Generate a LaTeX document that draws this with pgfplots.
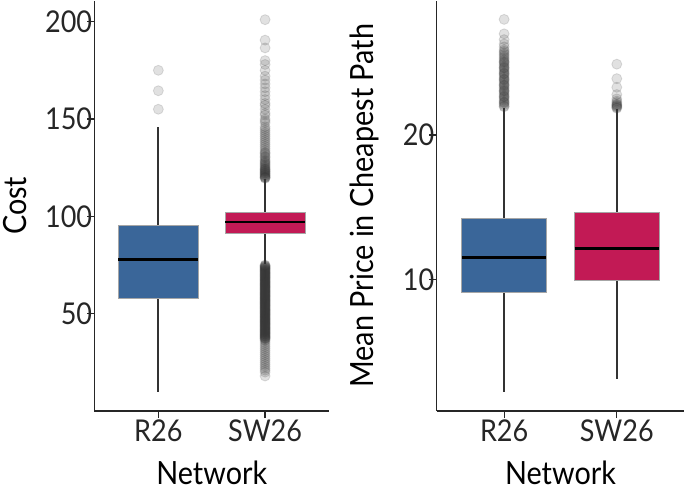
\documentclass[border=0pt]{standalone}
\usepackage{fontspec}
\setmainfont{Lato}[FakeStretch=0.9]
\usepackage{pgfplots}
\pgfplotsset{compat=1.18}
\usepgfplotslibrary{statistics}

\definecolor{rblue}{HTML}{3A6699}
\definecolor{swred}{HTML}{C21A55}
\definecolor{whisk}{HTML}{333333}

\tikzset{
  wsk/.style={draw=whisk, line width=1.8bp, solid},
  med/.style={draw=black, line width=2.4bp, solid},
}

\pgfplotsset{
  panel/.style={
    scale only axis,
    height=409bp,
    axis x line*=bottom,
    axis y line*=left,
    axis line style={line width=1.2bp, black!85},
    xmin=0.4, xmax=2.6,
    xtick={1,2}, xticklabels={R26,SW26},
    tick align=outside,
    major tick length=7bp,
    tick style={line width=1.2bp, black!85},
    ticklabel style={font=\fontsize{30}{32}\selectfont, text=black!85, inner sep=0pt},
    xticklabel style={yshift=-1bp},
    yticklabel style={xshift=5bp},
    label style={font=\fontsize{32}{36}\selectfont, inner sep=3bp},
    xlabel={Network},
    xlabel style={at={(axis description cs:0.5,-0.178)}, anchor=base},
    /pgf/number format/assume math mode=true,
    boxplot/draw direction=y,
    clip=false,
  },
  outl/.style={only marks, mark=*, mark size=5bp,
    mark options={fill=whisk, draw=whisk, fill opacity=0.15, draw opacity=0.15, line width=0.8bp}},
  bxp/.style={draw=whisk, line width=1.8bp, solid},
}

\begin{document}
\begin{tikzpicture}
% ---------------- left panel: Cost
\begin{axis}[panel,
  width=234bp,
  ymin=0, ymax=210.8,
  ytick={50,100,150,200},
  ylabel={Cost},
  ylabel style={at={(axis description cs:-0.29,0.5)}, anchor=base, rotate=0},
]
\addplot[outl] coordinates {(1,155) (1,164.5) (1,175)};
\addplot[outl] coordinates {
 (2,201) (2,190.5) (2,186.5) (2,180) (2,178) (2,175) (2,172) (2,170) (2,168)
 (2,166) (2,164) (2,162) (2,160) (2,158) (2,157) (2,155) (2,153) (2,152)
 (2,150) (2,149) (2,148) (2,146) (2,145) (2,144) (2,143) (2,142) (2,141)
 (2,140) (2,139) (2,138) (2,137) (2,136) (2,135) (2,134) (2,133) (2,132.5)
 (2,132) (2,131) (2,130.5) (2,130) (2,129) (2,128.5) (2,128) (2,127.5) (2,127)
 (2,126.5) (2,126) (2,125.5) (2,125) (2,124.5) (2,124) (2,123.5) (2,123)
 (2,122.5) (2,122) (2,121.5) (2,121) (2,120.5) (2,120) (2,119.5)
 (2,124.2) (2,123.2) (2,122.2) (2,121.2) (2,120.2) (2,119.8)
};
\addplot[outl] coordinates {
 (2,75) (2,74.5) (2,74) (2,73.5) (2,73) (2,72.5) (2,72) (2,71.5) (2,71) (2,70.5)
 (2,70) (2,69.5) (2,69) (2,68.5) (2,68) (2,67.5) (2,67) (2,66.5) (2,66) (2,65.5)
 (2,65) (2,64.5) (2,64) (2,63.5) (2,63) (2,62.5) (2,62) (2,61.5) (2,61) (2,60.5)
 (2,60) (2,59.5) (2,59) (2,58.5) (2,58) (2,57.5) (2,57) (2,56.5) (2,56) (2,55.5)
 (2,55) (2,54.5) (2,54) (2,53.5) (2,53) (2,52.5) (2,52) (2,51.5) (2,51) (2,50.5)
 (2,50) (2,49.5) (2,49) (2,48.5) (2,48) (2,47.5) (2,47) (2,46.5) (2,46) (2,45.5)
 (2,45) (2,44.5) (2,44) (2,43.5) (2,43) (2,42.5) (2,42) (2,41.5) (2,41) (2,40.5)
 (2,40) (2,39.5) (2,39) (2,38.5) (2,38) (2,37.5) (2,37) (2,36.5) (2,36)
 (2,74.75) (2,74.25) (2,73.75) (2,73.25) (2,72.75) (2,72.25) (2,71.75) (2,71.25)
 (2,70.75) (2,70.25) (2,69.75) (2,69.25) (2,68.75) (2,68.25) (2,67.75) (2,67.25)
 (2,66.75) (2,66.25) (2,65.75) (2,65.25) (2,64.75) (2,64.25) (2,63.75) (2,63.25)
 (2,62.75) (2,62.25) (2,61.75) (2,61.25) (2,60.75) (2,60.25) (2,59.75) (2,59.25)
 (2,58.75) (2,58.25) (2,57.75) (2,57.25) (2,56.75) (2,56.25) (2,55.75) (2,55.25)
 (2,54.75) (2,54.25) (2,53.75) (2,53.25) (2,52.75) (2,52.25) (2,51.75) (2,51.25)
 (2,50.75) (2,50.25) (2,49.75) (2,49.25) (2,48.75) (2,48.25) (2,47.75) (2,47.25)
 (2,46.75) (2,46.25) (2,45.75) (2,45.25) (2,44.75) (2,44.25) (2,43.75) (2,43.25)
 (2,42.75) (2,42.25) (2,41.75) (2,41.25) (2,40.75) (2,40.25) (2,39.75) (2,39.25)
 (2,38.75) (2,38.25) (2,37.75) (2,37.25)
 (2,35) (2,34) (2,33) (2,32) (2,31) (2,30) (2,29) (2,28) (2,27) (2,26)
 (2,25) (2,24) (2,23) (2,22) (2,21) (2,20) (2,18)
};
\addplot[bxp, boxplot prepared={draw position=1, lower whisker=9.8, lower quartile=57.7,
  median=77.8, upper quartile=95.4, upper whisker=145.9, box extend=0.75, whisker extend=0,
  every whisker/.style={wsk}, every median/.style={med},
  every box/.style={draw=black!35, fill=rblue, line width=0.8bp}}]
  coordinates {};
\addplot[bxp, boxplot prepared={draw position=2, lower whisker=75.3, lower quartile=91.2,
  median=97.0, upper quartile=102.0, upper whisker=119.0, box extend=0.75, whisker extend=0,
  every whisker/.style={wsk}, every median/.style={med},
  every box/.style={draw=black!35, fill=swred, line width=0.8bp}}]
  coordinates {};
\end{axis}

% ---------------- right panel: Mean Price in Cheapest Path
\begin{axis}[panel,
  at={(341bp,0)},
  width=247bp,
  ymin=0.9, ymax=29.3,
  ytick={10,20},
  ylabel={Mean Price in Cheapest Path},
  ylabel style={at={(axis description cs:-0.255,0.5)}, anchor=base, rotate=0},
]
\addplot[outl] coordinates {
 (1,28.0) (1,27.0) (1,26.6) (1,26.3) (1,26.1) (1,25.9) (1,25.8) (1,25.7)
 (1,25.6) (1,25.5) (1,25.4) (1,25.3) (1,25.2) (1,25.1) (1,25.0) (1,24.9)
 (1,24.8) (1,24.7) (1,24.6) (1,24.5) (1,24.4) (1,24.3) (1,24.2) (1,24.1)
 (1,24.0) (1,23.9) (1,23.8) (1,23.7) (1,23.6) (1,23.5) (1,23.4) (1,23.3)
 (1,23.2) (1,23.1) (1,23.0) (1,22.9) (1,22.8) (1,22.7) (1,22.6) (1,22.5)
 (1,22.4) (1,22.3) (1,22.2) (1,22.1) (1,22.0) (1,21.95)
 (1,25.05) (1,24.65) (1,24.25) (1,23.85) (1,23.45) (1,23.05) (1,22.65) (1,22.25)
};
\addplot[outl] coordinates {
 (2,24.9) (2,23.9) (2,23.3) (2,22.8) (2,22.5) (2,22.35) (2,22.25) (2,22.15)
 (2,22.1) (2,22.05) (2,22.0) (2,21.95) (2,21.9) (2,21.85)
};
\addplot[bxp, boxplot prepared={draw position=1, lower whisker=2.2, lower quartile=9.1,
  median=11.53, upper quartile=14.24, upper whisker=21.9, box extend=0.75, whisker extend=0,
  every whisker/.style={wsk}, every median/.style={med},
  every box/.style={draw=black!35, fill=rblue, line width=0.8bp}}]
  coordinates {};
\addplot[bxp, boxplot prepared={draw position=2, lower whisker=3.1, lower quartile=9.93,
  median=12.15, upper quartile=14.65, upper whisker=21.8, box extend=0.75, whisker extend=0,
  every whisker/.style={wsk}, every median/.style={med},
  every box/.style={draw=black!35, fill=swred, line width=0.8bp}}]
  coordinates {};
\end{axis}
\end{tikzpicture}
\end{document}
